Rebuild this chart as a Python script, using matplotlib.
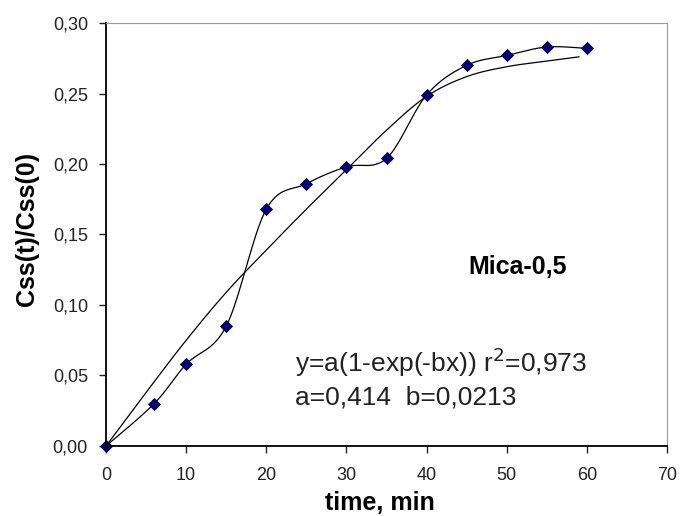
import numpy as np
import matplotlib
matplotlib.use('Agg')
import matplotlib.pyplot as plt

plt.rcParams['font.family'] = ['Liberation Sans', 'DejaVu Sans']

# measured points
time_min = [0, 6, 10, 15, 20, 25, 30, 35, 40, 45, 50, 55, 60]
css_ratio = [0.000, 0.030, 0.058, 0.085, 0.168, 0.186, 0.198, 0.204, 0.249, 0.270, 0.277, 0.283, 0.282]

# fitted curve
fit_x = [0, 5, 10, 15, 20, 25, 30, 35, 40, 45, 50, 55, 59]
fit_y = [0.000, 0.038, 0.075, 0.109, 0.139, 0.168, 0.196, 0.224, 0.248, 0.262, 0.269, 0.273, 0.276]

x_ticks = [0, 10, 20, 30, 40, 50, 60, 70]
y_ticks = [0.00, 0.05, 0.10, 0.15, 0.20, 0.25, 0.30]


def smooth(xs, ys, n=20):
    # Catmull-Rom style smoothing like a spreadsheet "smoothed line"
    p = np.column_stack([xs, ys]).astype(float)
    p = np.vstack([p[0], p, p[-1]])
    out = []
    t = np.linspace(0, 1, n, endpoint=False)
    for i in range(1, len(p) - 2):
        p0, p1, p2, p3 = p[i - 1], p[i], p[i + 1], p[i + 2]
        seg = 0.5 * ((2 * p1)[None, :] + np.outer(t, -p0 + p2)
                     + np.outer(t ** 2, 2 * p0 - 5 * p1 + 4 * p2 - p3)
                     + np.outer(t ** 3, -p0 + 3 * p1 - 3 * p2 + p3))
        out.append(seg)
    out.append(p[-2][None, :])
    out = np.vstack(out)
    return out[:, 0], out[:, 1]


fig = plt.figure(figsize=(6.81, 5.16), dpi=100)
ax = fig.add_axes([0.1557, 0.1357, 0.8238, 0.8197])

sx, sy = smooth(fit_x, fit_y)
ax.plot(sx, sy, color='black', lw=0.9)
dx, dy = smooth(time_min, css_ratio)
ax.plot(dx, dy, color='black', lw=0.9)
ax.plot(time_min, css_ratio, linestyle='none', marker='D', markersize=6,
        markerfacecolor='#000080', markeredgecolor='#000040', markeredgewidth=0.6,
        clip_on=False)

ax.set_xlim(0, 70)
ax.set_ylim(0, 0.30)
ax.set_xticks(x_ticks)
ax.set_yticks(y_ticks)
ax.set_yticklabels([f'{v:.2f}'.replace('.', ',') for v in y_ticks])
ax.tick_params(direction='out', length=5, width=1, labelsize=13, colors='#222222')
ax.tick_params(axis='y', pad=8)
ax.tick_params(axis='x', pad=10)

ax.spines['left'].set_color('black')
ax.spines['bottom'].set_color('black')
ax.spines['left'].set_linewidth(1.3)
ax.spines['bottom'].set_linewidth(1.3)
ax.spines['top'].set_color('#999999')
ax.spines['right'].set_color('#999999')

fig.text(380 / 681, 1 - 503 / 516, 'time, min', fontsize=18, fontweight='bold',
         ha='center', va='center')
fig.text(27 / 681, 1 - 229 / 516, 'Css(t)/Css(0)', fontsize=18, fontweight='bold',
         ha='center', va='center', rotation=90)

ax.text(51.4, 0.127, 'Mica-0,5', fontsize=18, fontweight='bold', ha='center', va='center')
ax.text(23.6, 0.0525, 'y=a(1-exp(-bx)) r$^2$=0,973', fontsize=19, ha='left', va='baseline',
        color='#222222')
ax.text(23.6, 0.0291, 'a=0,414  b=0,0213', fontsize=19, ha='left', va='baseline',
        color='#222222')

fig.savefig('out.png', dpi=100)
